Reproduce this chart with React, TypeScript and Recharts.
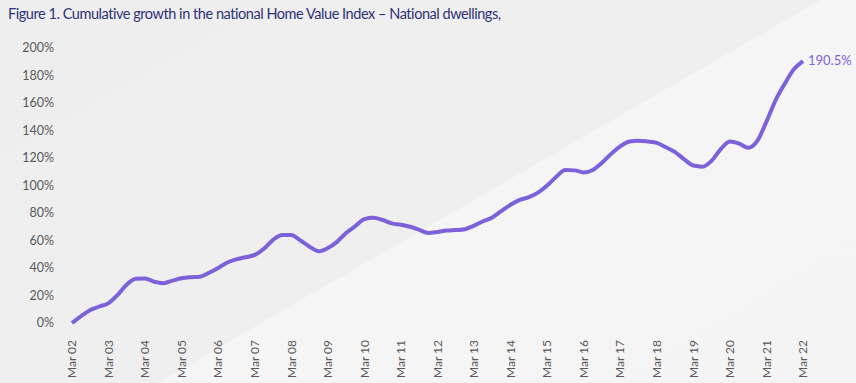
import React from "react"
import { LineChart, XAxis, YAxis, Line } from "recharts"

// quarterly points, Mar 02 .. Mar 22
const quarters = [
    "Mar 02", "Jun 02", "Sep 02", "Dec 02", "Mar 03", "Jun 03", "Sep 03", "Dec 03",
    "Mar 04", "Jun 04", "Sep 04", "Dec 04", "Mar 05", "Jun 05", "Sep 05", "Dec 05",
    "Mar 06", "Jun 06", "Sep 06", "Dec 06", "Mar 07", "Jun 07", "Sep 07", "Dec 07",
    "Mar 08", "Jun 08", "Sep 08", "Dec 08", "Mar 09", "Jun 09", "Sep 09", "Dec 09",
    "Mar 10", "Jun 10", "Sep 10", "Dec 10", "Mar 11", "Jun 11", "Sep 11", "Dec 11",
    "Mar 12", "Jun 12", "Sep 12", "Dec 12", "Mar 13", "Jun 13", "Sep 13", "Dec 13",
    "Mar 14", "Jun 14", "Sep 14", "Dec 14", "Mar 15", "Jun 15", "Sep 15", "Dec 15",
    "Mar 16", "Jun 16", "Sep 16", "Dec 16", "Mar 17", "Jun 17", "Sep 17", "Dec 17",
    "Mar 18", "Jun 18", "Sep 18", "Dec 18", "Mar 19", "Jun 19", "Sep 19", "Dec 19",
    "Mar 20", "Jun 20", "Sep 20", "Dec 20", "Mar 21", "Jun 21", "Sep 21", "Dec 21",
    "Mar 22",
]

const growth = [
    0, 5, 9.5, 12, 14.5, 20.5, 28, 32.2,
    32.3, 30, 29, 30.8, 32.5, 33.3, 33.7, 36.5,
    40, 44, 46.3, 47.8, 49.5, 54, 60.5, 64,
    64, 60, 55.5, 52.2, 54.5, 59, 65.5, 70.5,
    75.5, 76.5, 74.9, 72.5, 71.5, 70, 67.8, 65.5,
    66.2, 67.2, 67.6, 68.2, 70.8, 74, 76.8, 81.5,
    86, 89.5, 91.5, 94.8, 100, 106.4, 111.2, 111,
    109.5, 111.3, 116.5, 123, 128.5, 132, 132.6, 132,
    131, 127.8, 124.3, 119, 114.5, 113.7, 118, 126.5,
    132, 130.5, 127.5, 132.5, 146.5, 162, 174, 184.5,
    190.5,
]

const xTicks = quarters.filter((q) => q.startsWith("Mar"))
const yTicks = [0, 20, 40, 60, 80, 100, 120, 140, 160, 180, 200]
const title = "Figure 1. Cumulative growth in the national Home Value Index \u2013 National dwellings,"

const data = quarters.map((q, i) => ({ quarter: q, value: growth[i] }))

const FONT = "Lato, 'Open Sans', sans-serif"
const PURPLE = "#7c62d8"

function XTick(props: any) {
    const { x, y, payload } = props
    return (
        <g transform={`translate(${x},${y})`}>
            <text transform="rotate(-90)" textAnchor="end" dx={-9} dy="0.35em"
                fill="#595959" fontSize={12} fontFamily={FONT}>
                {payload.value}
            </text>
        </g>
    )
}

function EndLabel(props: any) {
    const { x, y, index, value } = props
    if (index !== data.length - 1) return null
    return (
        <text x={x + 5} y={y + 4} fill={PURPLE} fontSize={13} fontFamily={FONT}>
            {value.toFixed(1)}%
        </text>
    )
}

export default function App() {
    return (
        <div style={{
            position: "absolute", left: 0, top: 0, width: 856, height: 383,
            background: "linear-gradient(150deg, #eeeeef 0%, #efeff0 54%, #f6f5f6 54%, #f4f4f5 100%)",
        }}>
            <div style={{
                position: "absolute", left: 8, top: 5, fontFamily: FONT, fontSize: 14.5,
                letterSpacing: -0.45, color: "#2e3275", whiteSpace: "nowrap",
            }}>
                {title}
            </div>
            <LineChart
                width={856}
                height={383}
                data={data}
                margin={{ top: 48, right: 53, left: 12, bottom: 5 }}
            >
                <XAxis dataKey="quarter" ticks={xTicks} interval={0} axisLine={false}
                    tickLine={false} height={55} tick={<XTick />} />
                <YAxis domain={[0, 200]} ticks={yTicks} width={60} axisLine={false}
                    tickLine={false} tickSize={0} tickMargin={18}
                    tickFormatter={(v: number) => `${v}%`}
                    tick={{ fill: "#595959", fontSize: 12.5, fontFamily: FONT }} />
                <Line type="monotone" dataKey="value" stroke={PURPLE} strokeWidth={4}
                    dot={false} isAnimationActive={false} label={<EndLabel />} />
            </LineChart>
        </div>
    )
}
